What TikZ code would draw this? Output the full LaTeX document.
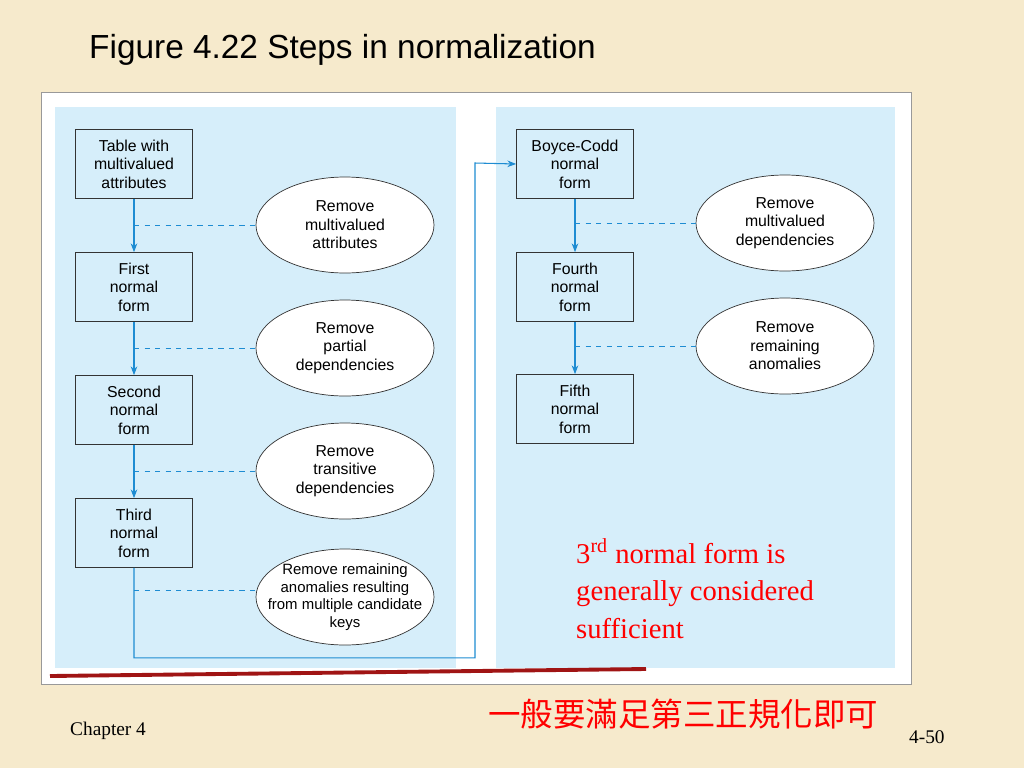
\documentclass[tikz,border=0pt]{standalone}
\usepackage{fontspec}
\setmainfont{Liberation Sans}
\newfontfamily\serifred{Liberation Serif}
\newfontfamily\cjk{Noto Sans CJK TC}
\usetikzlibrary{positioning,shapes.geometric,arrows.meta}
\definecolor{paper}{RGB}{246,234,204}
\definecolor{panel}{RGB}{214,238,250}
\definecolor{flowblue}{RGB}{30,140,210}
\definecolor{darkred}{RGB}{160,20,20}
\tikzset{
	stepbox/.style={draw=black!80, fill=panel, minimum width=117*0.02cm, minimum height=69*0.02cm,
		align=center, font=\fontsize{9}{10.5}\selectfont, inner sep=1pt},
	actell/.style={draw=black!80, fill=white, ellipse, minimum width=178*0.02cm, minimum height=96*0.02cm,
		align=center, font=\fontsize{9}{10.5}\selectfont, inner sep=0pt},
	flow/.style={flowblue, semithick, -{Stealth[length=5pt]}},
	dashlink/.style={flowblue, thin, dashed}
}
\begin{document}
\begin{tikzpicture}[x=0.02cm, y=-0.02cm]
	\useasboundingbox (0,0) rectangle (1024,768);
	\fill[paper] (0,0) rectangle (1024,768);
	
	% Titel
	\node [anchor=west, font=\fontsize{19}{22}\selectfont] (title) at (83,50) {Figure 4.22 Steps in normalization};
	
	% Rahmen und Felder
	\draw[black!40, fill=white] (41,92) rectangle (911,684);
	\fill[panel] (55,107) rectangle (456,668);
	\fill[panel] (496,107) rectangle (895,668);
	
	% linke Spalte
	\node [stepbox] (t0) at (134,164) {Table with\\multivalued\\attributes};
	\node [stepbox] (nf1) at (134,287) {First\\normal\\form};
	\node [stepbox] (nf2) at (134,410) {Second\\normal\\form};
	\node [stepbox] (nf3) at (134,533) {Third\\normal\\form};
	
	\node [actell] (e1) at (345,225) {Remove\\multivalued\\attributes};
	\node [actell] (e2) at (345,348) {Remove\\partial\\dependencies};
	\node [actell] (e3) at (345,471) {Remove\\transitive\\dependencies};
	\node [actell, inner sep=-9pt, font=\fontsize{8.5}{10}\selectfont] (e4) at (345,597) {Remove remaining\\anomalies resulting\\from multiple candidate\\keys};
	
	% rechte Spalte
	\node [stepbox] (bc) at (575,164) {Boyce-Codd\\normal\\form};
	\node [stepbox] (nf4) at (575,287) {Fourth\\normal\\form};
	\node [stepbox] (nf5) at (575,409) {Fifth\\normal\\form};
	
	\node [actell] (e5) at (785,223) {Remove\\multivalued\\dependencies};
	\node [actell] (e6) at (785,346) {Remove\\remaining\\anomalies};
	
	% Pfeile
	\draw [flow] (t0) -- (nf1);
	\draw [flow] (nf1) -- (nf2);
	\draw [flow] (nf2) -- (nf3);
	\draw [flow] (bc) -- (nf4);
	\draw [flow] (nf4) -- (nf5);
	\draw [flow] (nf3.south) -- ++(0,90) -| (475,163) -- (bc.west);
	
	% gestrichelte Verbindungen
	\draw [dashlink] (134,225) -- (e1.west);
	\draw [dashlink] (134,348) -- (e2.west);
	\draw [dashlink] (134,471) -- (e3.west);
	\draw [dashlink] (134,590) -- (258,590);
	\draw [dashlink] (575,223) -- (e5.west);
	\draw [dashlink] (575,346) -- (e6.west);
	
	% Anmerkung
	\node [anchor=north west, align=left, text=red, font=\serifred\fontsize{16.3}{21.5}\selectfont] (note) at (570,532)
		{3\textsuperscript{rd} normal form is\\generally considered\\sufficient};
	\draw [darkred, line width=2.2pt] (50,676) -- (646,669);
	
	\node [anchor=west, text=red, font=\cjk\fontsize{18.5}{22}\selectfont] (cn) at (482,714) {一般要滿足第三正規化即可};
	\node [anchor=west, font=\serifred\fontsize{11}{12}\selectfont] (chap) at (64,731) {Chapter 4};
	\node [anchor=west, font=\serifred\fontsize{11}{12}\selectfont] (page) at (903,737) {4-50};
\end{tikzpicture}
\end{document}
